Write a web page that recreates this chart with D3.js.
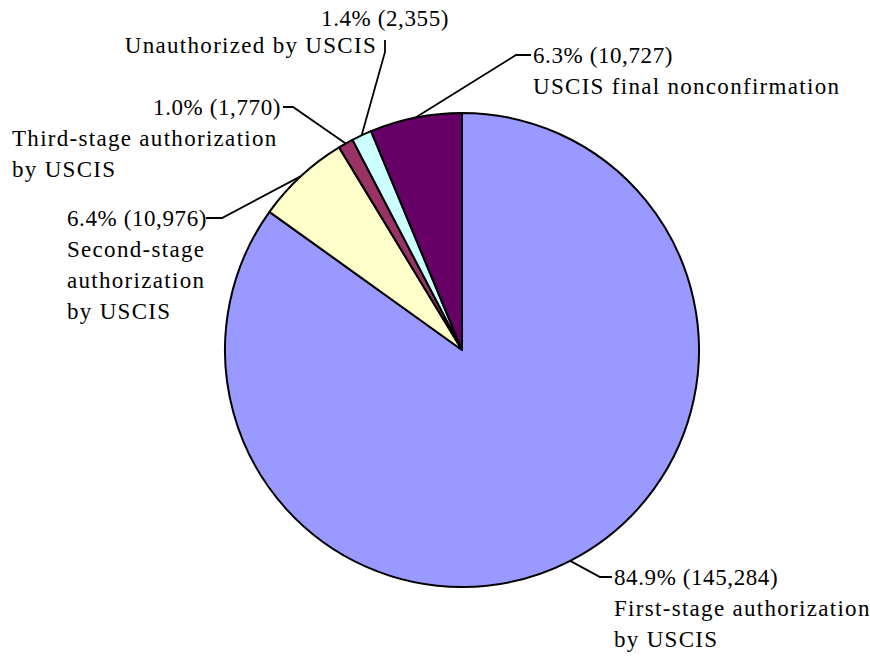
<!DOCTYPE html>
<html>
<head>
<meta charset="utf-8">
<script src="https://cdn.jsdelivr.net/npm/d3@7"></script>
<style>
  body { margin: 0; background: #fff; }
  text { font-family: "Liberation Serif", Times, "DejaVu Serif", serif; font-size: 23px; fill: #000; }
  text.num { letter-spacing: 0.6px; }
  text.name { letter-spacing: 1.3px; }
</style>
</head>
<body>
<svg id="chart" width="870" height="657"></svg>
<script>
// data
var categories = ["First-stage authorization\nby USCIS", "Second-stage\nauthorization\nby USCIS",
  "Third-stage authorization\nby USCIS", "Unauthorized by USCIS", "USCIS final nonconfirmation"];
var counts = [145284, 10976, 1770, 2355, 10727];
var percents = ["84.9%", "6.4%", "1.0%", "1.4%", "6.3%"];
var colors = ["#9999FF", "#FFFFCC", "#993366", "#CCFFFF", "#660066"];

// label placement (layout, not data)
var labelLayout = [
  { x1: 614, a1: "start", x2: 614, a2: "start", y: 585, elbow: [[600, 577], [612, 577]] },
  { x1: 67, a1: "start", x2: 67, a2: "start", y: 226, elbow: [[222, 218], [206, 218]] },
  { x1: 281, a1: "end", x2: 12, a2: "start", y: 115, elbow: [[293, 107], [283, 107]] },
  { x1: 449, a1: "end", x2: 377, a2: "end", y: 26, elbow: [[385, 52], [385, 40]] },
  { x1: 533, a1: "start", x2: 533, a2: "start", y: 63, elbow: [[516, 55], [531, 55]] }
];
var lineGap = 31;

var svg = d3.select("#chart");
var cx = 462, cy = 350, r = 237;
var fmt = d3.format(",");

var pie = d3.pie().sort(null).value(function(d) { return d; });
var arcs = pie(counts);
var arc = d3.arc().innerRadius(0).outerRadius(r);
var edge = d3.arc().innerRadius(r).outerRadius(r);

var g = svg.append("g").attr("transform", "translate(" + cx + "," + cy + ")");
g.selectAll("path.slice")
  .data(arcs)
  .enter().append("path")
  .attr("class", "slice")
  .attr("d", arc)
  .attr("fill", function(d, i) { return colors[i]; })
  .attr("stroke", "#000")
  .attr("stroke-width", 2)
  .attr("stroke-linejoin", "round");

// leader lines
arcs.forEach(function(d, i) {
  var c = edge.centroid(d);
  var p = [[cx + c[0], cy + c[1]]].concat(labelLayout[i].elbow);
  svg.append("path")
    .attr("d", d3.line()(p))
    .attr("fill", "none")
    .attr("stroke", "#000")
    .attr("stroke-width", 1.8);
});

// labels
categories.forEach(function(name, i) {
  var L = labelLayout[i];
  svg.append("text")
    .attr("class", "num")
    .attr("x", L.x1).attr("y", L.y)
    .attr("text-anchor", L.a1)
    .text(percents[i] + " (" + fmt(counts[i]) + ")");
  name.split("\n").forEach(function(line, j) {
    svg.append("text")
      .attr("class", "name")
      .attr("x", L.x2).attr("y", L.y + (j + 1) * lineGap - (i == 3 ? 4 : 0))
      .attr("text-anchor", L.a2)
      .text(line);
  });
});
</script>
</body>
</html>
